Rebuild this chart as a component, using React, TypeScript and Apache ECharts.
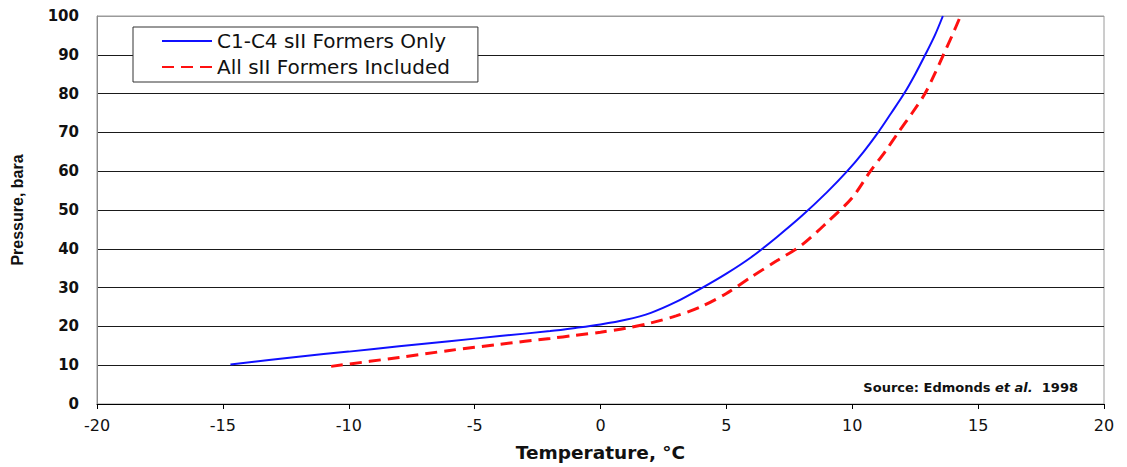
import React, { useEffect, useRef } from "react";
import * as echarts from "echarts";

const seriesNames = ["C1-C4 sII Formers Only", "All sII Formers Included"];

// [temperature °C, pressure bara]
const c1c4Formers: [number, number][] = [
  [-14.7, 10.2], [-12, 12.2], [-10, 13.5], [-8, 14.9], [-6, 16.2], [-4, 17.5],
  [-2, 18.8], [-1, 19.6], [0, 20.5], [1, 21.7], [2, 23.5], [3, 26.3],
  [4, 29.8], [5, 33.6], [6, 37.9], [7, 43.0], [8, 48.5], [9, 54.6],
  [9.8, 60], [10.45, 65], [11.03, 70], [11.55, 75], [12.06, 80], [12.5, 85],
  [12.9, 90], [13.28, 95], [13.6, 100],
];

const allFormers: [number, number][] = [
  [-10.7, 9.7], [-8, 12.0], [-6, 13.8], [-4, 15.4], [-2, 16.9], [-1, 17.7],
  [0, 18.5], [1, 19.5], [2, 20.9], [3, 22.7], [4, 25.1], [5, 28.5],
  [6, 32.8], [7, 36.9], [8, 41.0], [9, 46.8], [10, 53.2], [10.7, 59.8],
  [11.3, 65], [11.83, 70], [12.38, 75], [12.89, 80], [13.27, 85], [13.62, 90],
  [13.97, 95], [14.3, 100],
];

const xTicks = { min: -20, max: 20, interval: 5 };
const yTicks = { min: 0, max: 100, interval: 10 };

const xTitle = "Temperature, °C";
const yTitle = "Pressure, bara";
const sourceNote = ["Source: Edmonds ", "et al.", "  1998"];

export default function App() {
  const ref = useRef<HTMLDivElement>(null);

  useEffect(() => {
    if (!ref.current) return;
    const chart = echarts.init(ref.current, undefined, { renderer: "svg" });
    const splitColors = Array.from({ length: 11 }, (_, i) =>
      i === 10 ? "#9a9a9a" : i === 0 ? "#000" : "#1a1a1a"
    );
    chart.setOption({
      animation: false,
      backgroundColor: "#fff",
      grid: {
        left: 97,
        right: 23,
        top: 16,
        bottom: 62,
        show: true,
        borderColor: "#9a9a9a",
        borderWidth: 1,
        backgroundColor: "transparent",
      },
      legend: {
        orient: "vertical",
        left: 133,
        top: 27,
        padding: [4, 28, 5, 28],
        itemGap: 6,
        itemWidth: 50,
        itemHeight: 14,
        backgroundColor: "#fff",
        borderColor: "#333",
        borderWidth: 1,
        data: seriesNames,
        itemStyle: { opacity: 0 },
        textStyle: {
          fontFamily: "DejaVu Sans",
          fontSize: 20,
          color: "#111",
        },
      },
      xAxis: {
        type: "value",
        min: xTicks.min,
        max: xTicks.max,
        interval: xTicks.interval,
        name: xTitle,
        nameLocation: "middle",
        nameGap: 39,
        nameTextStyle: {
          fontFamily: "DejaVu Sans",
          fontWeight: "bold",
          fontSize: 18.5,
          color: "#111",
        },
        axisLine: { show: true, onZero: false, lineStyle: { color: "#000", width: 1 } },
        axisTick: { show: true, length: 5, lineStyle: { color: "#000" } },
        axisLabel: {
          margin: 13,
          fontFamily: "DejaVu Sans",
          fontSize: 16,
          color: "#111",
        },
        splitLine: { show: false },
      },
      yAxis: {
        type: "value",
        min: yTicks.min,
        max: yTicks.max,
        interval: yTicks.interval,
        name: yTitle,
        nameLocation: "middle",
        nameRotate: 90,
        nameGap: 72,
        nameTextStyle: {
          fontFamily: "Liberation Sans",
          fontWeight: "bold",
          fontSize: 16,
          color: "#111",
        },
        axisLine: { show: true, onZero: false, lineStyle: { color: "#8a8a8a", width: 1 } },
        axisTick: { show: false },
        axisLabel: {
          margin: 18,
          fontFamily: "DejaVu Sans",
          fontWeight: "bold",
          fontSize: 15,
          color: "#111",
        },
        splitLine: {
          show: true,
          lineStyle: { color: splitColors, width: 1 },
        },
      },
      graphic: [
        {
          type: "text",
          right: 1127 - 1078,
          top: 381,
          style: {
            text: `{b|${sourceNote[0]}}{i|${sourceNote[1]}}{b|${sourceNote[2]}}`,
            rich: {
              b: {
                fontFamily: "DejaVu Sans",
                fontWeight: "bold",
                fontSize: 13,
                fill: "#111",
              },
              i: {
                fontFamily: "DejaVu Sans",
                fontWeight: "bold",
                fontStyle: "italic",
                fontSize: 13,
                fill: "#111",
              },
            },
          },
        },
      ],
      series: [
        {
          name: seriesNames[0],
          type: "line",
          data: c1c4Formers,
          smooth: 0.3,
          symbol: "none",
          lineStyle: { color: "#1010ff", width: 2 },
          itemStyle: { color: "#1010ff" },
          z: 3,
        },
        {
          name: seriesNames[1],
          type: "line",
          data: allFormers,
          smooth: 0.3,
          symbol: "none",
          lineStyle: { color: "#ff1010", width: 3, type: [12, 7] },
          itemStyle: { color: "#ff1010" },
          z: 2,
        },
      ],
    });
    return () => chart.dispose();
  }, []);

  return (
    <div
      ref={ref}
      style={{ position: "absolute", left: 0, top: 0, width: 1127, height: 467 }}
    />
  );
}
